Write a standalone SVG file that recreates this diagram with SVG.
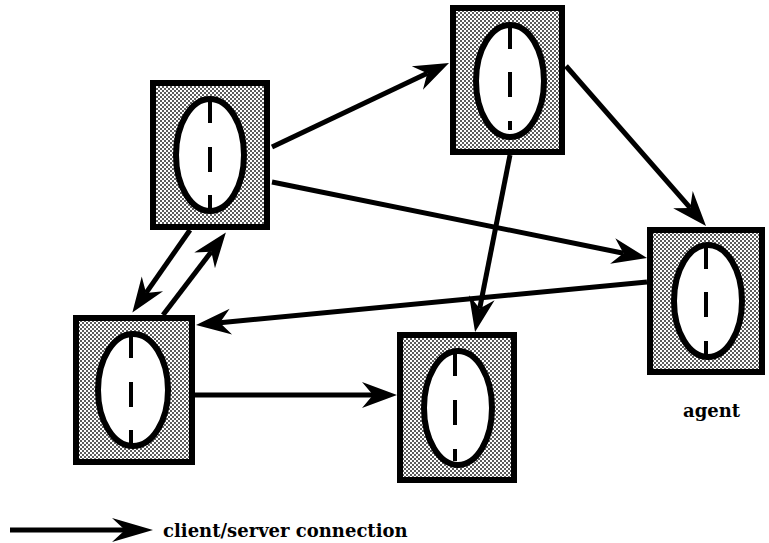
<svg xmlns="http://www.w3.org/2000/svg" width="769" height="543" viewBox="0 0 769 543">
  <defs>
    <!-- halftone-like stipple used inside the agent boxes -->
    <pattern id="stipple" width="4" height="4" patternUnits="userSpaceOnUse">
      <rect width="4" height="4" fill="#ffffff"/>
      <rect x="0" y="0" width="2" height="2" fill="#5c5c5c"/>
      <rect x="2" y="2" width="2" height="2" fill="#5c5c5c"/>
    </pattern>
    <marker id="head" markerUnits="userSpaceOnUse" viewBox="-14 -14 44 28" markerWidth="44" markerHeight="28" refX="0" refY="0" orient="auto">
      <path d="M24,0 L-11,-13 L0,0 L-11,13 Z" fill="#000"/>
    </marker>
    <marker id="head-lg" markerUnits="userSpaceOnUse" viewBox="-16 -15 48 30" markerWidth="48" markerHeight="30" refX="0" refY="0" orient="auto">
      <path d="M28,0 L-13,-12 L0,0 L-13,12 Z" fill="#000"/>
    </marker>
    <style>
      .box { fill: url(#stipple); stroke: #000; stroke-width: 6; }
      .core { fill: #fff; stroke: #000; stroke-width: 6; }
      .axis { fill: none; stroke: #000; stroke-width: 4; }
      .link { fill: none; stroke: #000; stroke-width: 5; marker-end: url(#head); }
      .label { font-family: "DejaVu Serif", "Liberation Serif", serif; font-weight: bold; font-size: 18px; fill: #000; }
    </style>
  </defs>

  <!-- connectors -->
  <g id="connectors">
    <line class="link" x1="272" y1="147" x2="427.3" y2="73.3"/>
    <line class="link" x1="272" y1="182" x2="623.5" y2="253.2"/>
    <line class="link" x1="566" y1="66" x2="690.2" y2="207.9"/>
    <line class="link" x1="510" y1="155" x2="479.7" y2="308.5"/>
    <line class="link" x1="647" y1="282" x2="219.9" y2="322.7"/>
    <line class="link" x1="195" y1="395" x2="373" y2="395"/>
    <line class="link" x1="190" y1="230" x2="146.1" y2="292.9"/>
    <line class="link" x1="163" y1="315" x2="211.3" y2="251.7"/>
  </g>

  <!-- agents -->
  <g id="node-a">
    <rect class="box" x="153" y="83" width="114" height="144"/>
    <ellipse class="core" cx="210" cy="155" rx="34" ry="56"/>
    <path class="axis" d="M210,98 V123 M210,147 V172 M210,195 V208"/>
  </g>
  <g id="node-b">
    <rect class="box" x="453" y="8" width="109" height="144"/>
    <ellipse class="core" cx="510" cy="81" rx="34" ry="56"/>
    <path class="axis" d="M510,27 V49 M510,72 V97 M510,121 V130"/>
  </g>
  <g id="node-agent">
    <rect class="box" x="650" y="230" width="112" height="142"/>
    <ellipse class="core" cx="708" cy="301" rx="34" ry="56"/>
    <path class="axis" d="M706,246 V269 M706,292 V317 M706,341 V354"/>
    <text class="label" x="683" y="417">agent</text>
  </g>
  <g id="node-d">
    <rect class="box" x="76" y="318" width="116" height="144"/>
    <ellipse class="core" cx="133" cy="390" rx="35" ry="56"/>
    <path class="axis" d="M131,334 V358 M131,382 V407 M131,430 V443"/>
  </g>
  <g id="node-e">
    <rect class="box" x="400" y="335" width="114" height="145"/>
    <ellipse class="core" cx="458" cy="408" rx="34" ry="57"/>
    <path class="axis" d="M455,352 V376 M455,400 V425 M455,449 V461"/>
  </g>

  <!-- legend -->
  <g id="legend">
    <line x1="10" y1="530" x2="125" y2="530" stroke="#000" stroke-width="5" marker-end="url(#head-lg)"/>
    <text class="label" x="163" y="537">client/server connection</text>
  </g>
</svg>
